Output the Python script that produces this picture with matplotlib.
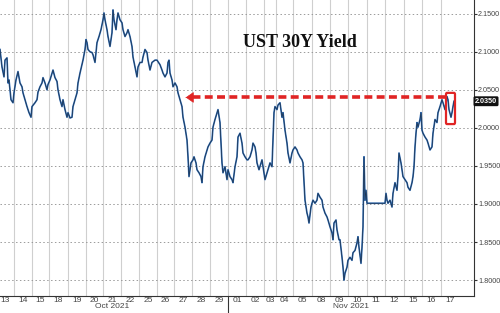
import matplotlib
matplotlib.use("Agg")
import matplotlib.pyplot as plt
import matplotlib.transforms as mtransforms
from matplotlib.patches import FancyBboxPatch
import numpy as np

# bar number (intraday bars since start of window) and yield
t = [0, 2, 4, 5, 7, 8, 9, 11, 13, 14, 16, 18, 20, 22, 23, 25, 27, 29, 31, 32,
     35, 37, 38, 40, 42, 43, 45, 47, 48, 50, 52, 53, 55, 57, 58, 60, 62, 63, 65, 67,
     68, 70, 72, 73, 75, 77, 78, 80, 82, 83, 85, 86, 87, 88, 90, 92, 93, 95, 96, 97,
     99, 101, 103, 104, 105, 107, 108, 110, 112, 113, 114, 116, 117, 118, 120, 122, 123, 125, 127, 128,
     130, 132, 133, 135, 137, 138, 140, 142, 143, 145, 147, 148, 150, 152, 153, 155, 157, 158, 160, 162,
     163, 165, 167, 168, 169, 170, 172, 173, 175, 177, 178, 180, 182, 183, 185, 187, 188, 189, 191, 193,
     194, 196, 197, 199, 201, 202, 203, 205, 207, 208, 210, 212, 213, 215, 217, 218, 220, 222, 223, 225,
     227, 228, 230, 232, 233, 235, 237, 238, 240, 242, 243, 245, 247, 248, 250, 252, 253, 255, 256, 257,
     259, 262, 263, 265, 267, 268, 270, 272, 273, 274, 275, 277, 278, 280, 282, 283, 285, 287, 288, 290,
     292, 293, 295, 297, 298, 300, 302, 303, 305, 306, 307, 308, 309, 311, 312, 313, 315, 317, 318, 320,
     322, 323, 325, 327, 328, 330, 332, 333, 334, 336, 337, 339, 340, 342, 343, 344, 345, 347, 348, 350,
     352, 353, 355, 357, 358, 359, 361, 362, 363, 364, 365, 366, 367, 385, 386, 387, 388, 390, 392, 393,
     395, 397, 398, 399, 401, 402, 403, 405, 407, 408, 410, 412, 413, 414, 415, 416, 417, 418, 420, 421,
     422, 423, 425, 427, 428, 430, 432, 433, 435, 437, 438, 440, 442, 443, 445, 446, 447, 448, 449, 451,
     452, 453, 454]
yld = [2.103, 2.080, 2.067, 2.089, 2.092, 2.059, 2.063, 2.037, 2.033, 2.046, 2.063, 2.074, 2.059, 2.054, 2.046, 2.037, 2.028, 2.020, 2.014, 2.028,
       2.033, 2.037, 2.047, 2.054, 2.059, 2.066, 2.059, 2.050, 2.057, 2.063, 2.072, 2.076, 2.066, 2.061, 2.050, 2.037, 2.028, 2.037, 2.024, 2.014,
       2.020, 2.013, 2.014, 2.028, 2.037, 2.046, 2.059, 2.072, 2.083, 2.089, 2.103, 2.116, 2.112, 2.103, 2.100, 2.099, 2.096, 2.086, 2.099, 2.112,
       2.120, 2.129, 2.142, 2.151, 2.142, 2.129, 2.120, 2.107, 2.125, 2.155, 2.142, 2.129, 2.142, 2.151, 2.142, 2.138, 2.129, 2.120, 2.125, 2.129,
       2.120, 2.107, 2.093, 2.080, 2.067, 2.080, 2.086, 2.086, 2.093, 2.103, 2.099, 2.089, 2.076, 2.086, 2.087, 2.089, 2.089, 2.087, 2.083, 2.076,
       2.072, 2.067, 2.072, 2.086, 2.089, 2.072, 2.063, 2.054, 2.059, 2.054, 2.046, 2.037, 2.028, 2.014, 2.001, 1.984, 1.962, 1.936, 1.954, 1.958,
       1.962, 1.954, 1.945, 1.941, 1.936, 1.928, 1.949, 1.962, 1.971, 1.975, 1.980, 1.984, 2.001, 2.011, 2.020, 2.024, 2.007, 1.954, 1.941, 1.949,
       1.932, 1.945, 1.936, 1.932, 1.928, 1.949, 1.962, 1.988, 1.993, 1.980, 1.967, 1.962, 1.958, 1.958, 1.962, 1.971, 1.980, 1.975, 1.967, 1.954,
       1.945, 1.958, 1.949, 1.932, 1.941, 1.945, 1.954, 1.949, 1.984, 2.020, 2.028, 2.024, 2.030, 2.033, 2.014, 2.020, 1.997, 1.980, 1.967, 1.954,
       1.967, 1.971, 1.975, 1.971, 1.967, 1.962, 1.958, 1.954, 1.905, 1.896, 1.888, 1.883, 1.875, 1.896, 1.901, 1.905, 1.901, 1.905, 1.914, 1.909,
       1.905, 1.896, 1.888, 1.883, 1.879, 1.870, 1.862, 1.853, 1.875, 1.879, 1.866, 1.853, 1.853, 1.830, 1.817, 1.800, 1.809, 1.817, 1.826, 1.830,
       1.826, 1.836, 1.839, 1.849, 1.857, 1.843, 1.822, 1.843, 1.870, 1.962, 1.905, 1.918, 1.901, 1.901, 1.914, 1.905, 1.901, 1.905, 1.896, 1.914,
       1.928, 1.918, 1.936, 1.967, 1.954, 1.945, 1.936, 1.932, 1.928, 1.922, 1.918, 1.928, 1.936, 1.949, 1.975, 1.993, 2.007, 2.001, 2.011, 2.020,
       1.997, 1.993, 1.988, 1.984, 1.980, 1.971, 1.975, 1.993, 2.011, 2.007, 2.020, 2.028, 2.037, 2.033, 2.024, 2.033, 2.041, 2.037, 2.024, 2.014,
       2.020, 2.028, 2.035]

# session boundaries (bar numbers) and day labels
day_edges = [-4, 14, 32, 49, 68, 86, 103, 121, 139, 157, 174, 192, 210, 228,
             246, 264, 276, 293, 312, 330, 348, 367, 385, 404, 422, 441, 459]
day_labels = ["13", "14", "15", "18", "19", "20", "21", "22", "25", "26", "27", "28", "29",
              "01", "02", "03", "04", "05", "08", "09", "10", "11", "12", "15", "16", "17"]
month_edges = [-4, 228, 474]
month_labels = ["Oct 2021", "Nov 2021"]

yticks = [1.80, 1.85, 1.90, 1.95, 2.00, 2.05, 2.10, 2.15]
last_val = 2.035
prior_high = 2.040
prior_high_bar = 183
box_bars = (446, 455)
box_range = (2.005, 2.046)

fig = plt.figure(figsize=(5.0, 3.13), dpi=100)
ax = fig.add_axes([0.0, 0.054, 0.948, 0.946])
ax.set_xlim(0, 474)
ax.set_ylim(1.779, 2.168)

# grid
for e in day_edges[1:-1]:
    ax.axvline(e, color="#cfcfcf", lw=0.8, zorder=0)
for v in yticks:
    ax.axhline(v, color="#9a9a9a", lw=0.7, ls=(0, (1.5, 2.5)), zorder=0)

ax.plot(t, yld, color="#2d6cb8", lw=1.2, zorder=2)
ax.plot(t, yld, color="#1a1a1a", lw=0.5, alpha=0.7, zorder=3)

# red dashed arrow back to the prior high
ax.plot([box_bars[0], prior_high_bar + 5], [prior_high, prior_high], color="#e02424",
        lw=2.6, ls=(0, (2.2, 1.2)), zorder=4, solid_capstyle="butt")
ax.annotate("", xy=(prior_high_bar, prior_high), xytext=(prior_high_bar + 6, prior_high),
            arrowprops=dict(arrowstyle="-|>,head_length=0.5,head_width=0.35",
                            color="#e02424", lw=0.5), zorder=5)
box = FancyBboxPatch((box_bars[0], box_range[0]), box_bars[1] - box_bars[0],
                     box_range[1] - box_range[0], boxstyle="round,pad=0,rounding_size=1",
                     fill=False, ec="#e02424", lw=1.6, zorder=5, mutation_aspect=0.002)
ax.add_patch(box)

ax.text(300, 2.112, "UST 30Y Yield", ha="center", va="center", fontsize=13,
        fontweight="bold", family="Liberation Serif", color="#111111")

# axes styling
for s in ["top", "left"]:
    ax.spines[s].set_visible(False)
ax.spines["right"].set_color("#333333")
ax.spines["bottom"].set_color("#333333")
ax.spines["right"].set_linewidth(0.8)
ax.spines["bottom"].set_linewidth(0.8)

ax.yaxis.tick_right()
ax.set_yticks(yticks)
ax.set_yticklabels(["%.4f" % v for v in yticks], family="Liberation Sans")
ax.tick_params(axis="y", direction="out", length=2, width=0.8, color="#333333",
               labelsize=5.2, labelcolor="#444444", pad=1)

centers = [(day_edges[i] + day_edges[i + 1]) / 2 for i in range(len(day_labels))]
ax.set_xticks(centers)
ax.set_xticklabels(day_labels, family="Liberation Sans")
ax.tick_params(axis="x", length=0, labelsize=6, labelcolor="#444444", pad=1)

trans = mtransforms.blended_transform_factory(ax.transData, ax.transAxes)
for i, lab in enumerate(month_labels):
    ax.text((month_edges[i] + month_edges[i + 1]) / 2, -0.036, lab, transform=trans,
            ha="center", va="center", fontsize=6, color="#444444", family="Liberation Sans")
ax.plot([month_edges[1], month_edges[1]], [0, -0.07], transform=trans, color="#333333",
        lw=0.8, clip_on=False)

ax.text(1.002, last_val, "%.4f" % last_val, transform=mtransforms.blended_transform_factory(
    ax.transAxes, ax.transData), ha="left", va="center", fontsize=5.2, color="white",
    fontweight="bold", family="Liberation Sans",
    bbox=dict(boxstyle="round,pad=0.2", fc="#111111", ec="none"))

fig.savefig("out.png", dpi=100)
